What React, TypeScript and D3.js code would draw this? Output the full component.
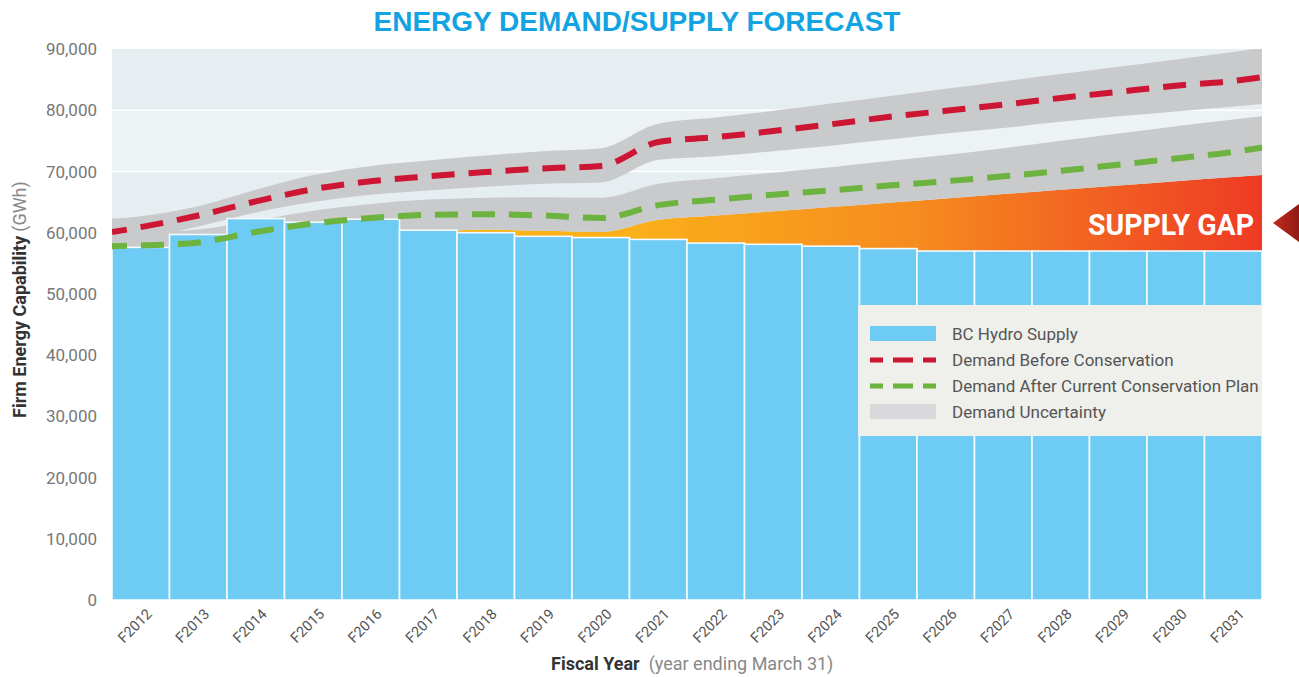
import React from "react";
import * as d3 from "d3";

const categories = ["F2012","F2013","F2014","F2015","F2016","F2017","F2018","F2019","F2020","F2021","F2022","F2023","F2024","F2025","F2026","F2027","F2028","F2029","F2030","F2031"];
const supply = [57600, 59700, 62300, 61700, 62200, 60400, 60000, 59400, 59200, 58900, 58300, 58100, 57800, 57400, 57000, 57000, 57000, 57000, 57000, 57000];

// curve sample positions: plot left edge, each fiscal year centre, plot right edge
const curveYears = [2011.5, 2012, 2013, 2014, 2015, 2016, 2017, 2018, 2019, 2020, 2021, 2022, 2023, 2024, 2025, 2026, 2027, 2028, 2029, 2030, 2031, 2031.5];
const demandBefore = [60100, 60900, 62800, 65100, 67100, 68400, 69200, 69900, 70500, 70900, 74800, 75600, 76600, 77700, 78900, 79900, 80900, 82000, 83000, 84000, 84800, 85400];
const demandAfter = [57800, 57900, 58400, 60100, 61500, 62400, 62900, 63000, 62800, 62400, 64500, 65400, 66200, 66900, 67700, 68400, 69200, 70100, 71100, 72100, 73200, 73900];
const beforeHigh = [62300, 62700, 64300, 67000, 69400, 70900, 71800, 72600, 73300, 73800, 77800, 78800, 79900, 81100, 82300, 83500, 84700, 85900, 87100, 88300, 89500, 90200];
const beforeLow = [58400, 59000, 61000, 63300, 65000, 66200, 66900, 67500, 68000, 68200, 71900, 72500, 73300, 74200, 75200, 76200, 77100, 78100, 79000, 79800, 80600, 81000];
const afterHigh = [59800, 60000, 60500, 62000, 63600, 64700, 65400, 65700, 65800, 65700, 68000, 68900, 69800, 70700, 71700, 72700, 73800, 75000, 76200, 77400, 78500, 79000];
const afterLow = [56000, 56300, 57000, 58000, 59000, 59600, 60100, 60500, 60300, 60100, 62100, 62800, 63500, 64200, 64900, 65600, 66300, 67000, 67700, 68400, 69100, 69400];

const yTicks = [0, 10000, 20000, 30000, 40000, 50000, 60000, 70000, 80000, 90000];
const legendItems = ["BC Hydro Supply", "Demand Before Conservation", "Demand After Current Conservation Plan", "Demand Uncertainty"];

const W = 1299, H = 677;
const L = 112, R = 1262, T = 49, B = 600;

const font = "Roboto, 'Noto Sans', sans-serif";

export default function App() {
  const x = d3.scaleBand<string>().domain(categories).range([L, R]).padding(0);
  const xy = d3.scaleLinear().domain([2011.5, 2031.5]).range([L, R]);
  const y = d3.scaleLinear().domain([0, 90000]).range([B, T]);

  const line = d3.line<number>().x((_, i) => xy(curveYears[i])).y(d => y(d)).curve(d3.curveMonotoneX);
  const band = (hi: number[], lo: number[]) =>
    d3.area<number>().x((_, i) => xy(curveYears[i])).y0((_, i) => y(lo[i])).y1(d => y(d)).curve(d3.curveMonotoneX)(hi) as string;
  const gapArea = d3.area<number>().x((_, i) => xy(curveYears[i])).y0(y(0)).y1(d => y(d)).curve(d3.curveMonotoneX)(afterLow) as string;

  const fmt = d3.format(",");

  return (
    <svg width={W} height={H} style={{ position: "absolute", left: 0, top: 0, background: "#fff" }}>
      <defs>
        <clipPath id="plot"><rect x={L} y={T} width={R - L} height={B - T} /></clipPath>
        <linearGradient id="gap" gradientUnits="userSpaceOnUse" x1={L} x2={R} y1={0} y2={0}>
          <stop offset="0" stopColor="#fdb913" />
          <stop offset="0.45" stopColor="#fbb019" />
          <stop offset="0.7" stopColor="#f68b1f" />
          <stop offset="1" stopColor="#ee3a24" />
        </linearGradient>
        <linearGradient id="tri" x1="0" x2="1" y1="0" y2="0">
          <stop offset="0" stopColor="#c42a1e" />
          <stop offset="1" stopColor="#8f1b15" />
        </linearGradient>
      </defs>

      <text x={637} y={31} textAnchor="middle" fontFamily="'Liberation Sans', Arial, sans-serif" fontWeight="bold" fontSize={28} fill="#12a3e3">ENERGY DEMAND/SUPPLY FORECAST</text>

      {/* plot background bands */}
      {yTicks.slice(0, -1).map((t, i) => (
        <rect key={t} x={L} y={y(t + 10000)} width={R - L} height={y(t) - y(t + 10000)} fill={i % 2 === 0 ? "#e7eef2" : "#edf2f5"} />
      ))}
      {yTicks.slice(1, -1).map(t => (
        <line key={t} x1={L} x2={R} y1={y(t)} y2={y(t)} stroke="#fff" strokeWidth={1.5} />
      ))}

      <g clipPath="url(#plot)">
        <path d={gapArea} fill="url(#gap)" />
        <path d={band(beforeHigh, beforeLow)} fill="#c9cacc" />
        <path d={band(afterHigh, afterLow)} fill="#c9cacc" />
        {categories.map((c, i) => (
          <rect key={c} x={x(c)!} y={y(supply[i])} width={x.bandwidth()} height={y(0) - y(supply[i])} fill="#6dcbf4" stroke="#f4fbff" strokeWidth={1.6} />
        ))}
        <path d={line(demandBefore) as string} fill="none" stroke="#cc1633" strokeWidth={6} strokeDasharray="23 14" strokeDashoffset={8} />
        <path d={line(demandAfter) as string} fill="none" stroke="#6cb33f" strokeWidth={6} strokeDasharray="23 14" strokeDashoffset={8} />
      </g>

      <text x={1254} y={235} textAnchor="end" fontFamily={font} fontWeight="bold" fontSize={30} fill="#fff" textLength={166} lengthAdjust="spacingAndGlyphs">SUPPLY GAP</text>
      <polygon points="1273,223 1299,204 1299,242" fill="url(#tri)" />

      {/* y axis */}
      {yTicks.map(t => (
        <text key={t} x={97} y={y(t)} dy="0.36em" textAnchor="end" fontFamily={font} fontSize={17} fill="#777">{fmt(t)}</text>
      ))}
      <text transform="translate(26,418) rotate(-90)" fontFamily={font} fontSize={18} fill="#333">
        <tspan fontWeight="bold">Firm Energy Capability</tspan>
        <tspan fill="#888" dx={4}>(GWh)</tspan>
      </text>

      {/* x axis */}
      {categories.map(c => (
        <text key={c} transform={`translate(${x(c)! + x.bandwidth() / 2 + 12},${615}) rotate(-45)`} textAnchor="end" fontFamily={font} fontSize={14.5} fill="#555">{c}</text>
      ))}
      <text x={551} y={670} fontFamily={font} fontSize={18} fill="#333">
        <tspan fontWeight="bold">Fiscal Year</tspan>
        <tspan fill="#888" dx={9}>(year ending March 31)</tspan>
      </text>

      {/* legend */}
      <rect x={858} y={305} width={R - 858} height={131} fill="#efefeb" />
      <rect x={870} y={326} width={66} height={15} fill="#6dcbf4" />
      <line x1={870} x2={936} y1={360} y2={360} stroke="#cc1633" strokeWidth={5} strokeDasharray="13 10 20 10 13" />
      <line x1={870} x2={936} y1={386} y2={386} stroke="#6cb33f" strokeWidth={5} strokeDasharray="13 10 20 10 13" />
      <rect x={870} y={404} width={66} height={15} fill="#d9d9dc" />
      {legendItems.map((t, i) => (
        <text key={t} x={952} y={334 + i * 26} dy="0.36em" fontFamily={font} fontSize={17} fill="#555">{t}</text>
      ))}
    </svg>
  );
}
